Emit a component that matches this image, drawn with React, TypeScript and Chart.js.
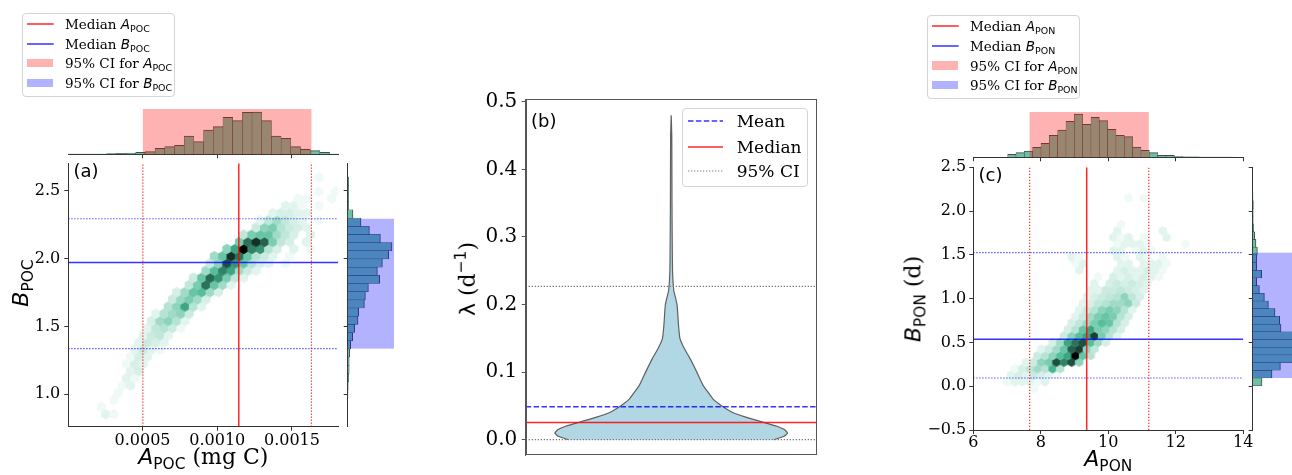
import React, { useEffect, useRef } from 'react';
import { Chart, registerables } from 'chart.js';

Chart.register(...registerables);

const SERIF = '"DejaVu Serif", "Liberation Serif", serif';
const SANS = '"DejaVu Sans", "Liberation Sans", sans-serif';
const SPINE = '#333333';
const HIST_GREEN = 'rgb(108, 193, 162)';
const HIST_EDGE = 'rgba(35, 45, 40, 0.85)';
const RED = 'rgba(255, 0, 0, 0.85)';
const BLUE = 'rgba(0, 0, 255, 0.8)';
const GRAY = '#777777';
const RED_SPAN = 'rgba(255, 0, 0, 0.3)';
const BLUE_SPAN = 'rgba(0, 0, 255, 0.3)';
const DOT = [1.2, 1.8];
const DASH = [5.5, 2.4];

// ---------------- Panel (a) ----------------
const aXRange = [0.000003, 0.00181];
const aYRange = [0.761, 2.704];
const aXTicks = [0.0005, 0.001, 0.0015];
const aXTickLabels = ['0.0005', '0.0010', '0.0015'];
const aYTicks = [1.0, 1.5, 2.0, 2.5];
const aYTickLabels = ['1.0', '1.5', '2.0', '2.5'];
const aMedianA = 0.001144;
const aCIA = [0.000502, 0.00163];
const aMedianB = 1.973;
const aCIB = [1.337, 2.295];
// hexbin grid (column/row index, count)
const aHexX0 = 0;
const aHexY0 = 0.8;
const aHexDX = 0.000056;
const aHexDY = 0.053;
const aHexMax = 40;
const aHexCells = [
  [4,1,2],[5,1,1],[4,2,1],[5,3,1],[6,4,1],[6,5,1],[7,5,2],[7,6,2],[8,6,1],[7,7,2],[8,7,3],
  [7,8,1],[8,8,3],[9,8,2],[7,9,1],[8,9,3],[9,9,2],
  [8,10,2],[9,10,4],[10,10,2],[11,10,1],[8,11,2],[9,11,4],[10,11,3],[11,11,2],
  [9,12,2],[10,12,4],[11,12,5],[12,12,2],[9,13,2],[10,13,5],[11,13,6],[12,13,4],[13,13,1],
  [10,14,3],[11,14,8],[12,14,10],[13,14,6],[14,14,2],[10,15,2],[11,15,6],[12,15,8],[13,15,10],[14,15,4],
  [12,16,6],[13,16,10],[14,16,20],[15,16,6],[16,16,2],[12,17,4],[13,17,9],[14,17,12],[15,17,8],[16,17,3],
  [13,18,3],[14,18,8],[15,18,14],[16,18,16],[17,18,8],[18,18,3],
  [14,19,5],[15,19,12],[16,19,26],[17,19,14],[18,19,8],[19,19,2],
  [15,20,4],[16,20,14],[17,20,27],[18,20,22],[19,20,12],[20,20,5],[21,20,2],
  [16,21,8],[17,21,16],[18,21,24],[19,21,20],[20,21,8],[21,21,4],[22,21,2],
  [17,22,4],[18,22,10],[19,22,30],[20,22,22],[21,22,14],[22,22,6],[23,22,3],[24,22,2],[26,22,1],
  [17,23,8],[18,23,14],[19,23,34],[20,23,26],[21,23,14],[22,23,6],[23,23,4],[24,23,2],[26,23,1],
  [19,24,10],[20,24,20],[21,24,40],[22,24,24],[23,24,22],[24,24,6],[25,24,3],[27,24,2],[29,24,1],
  [20,25,12],[21,25,26],[22,25,34],[23,25,28],[24,25,12],[25,25,5],[26,25,3],[28,25,2],
  [21,26,5],[22,26,12],[23,26,14],[24,26,14],[25,26,8],[26,26,5],[27,26,3],[29,26,2],
  [22,27,4],[23,27,10],[24,27,12],[25,27,6],[26,27,4],[27,27,3],[28,27,2],
  [23,28,2],[24,28,5],[25,28,8],[26,28,5],[27,28,3],[28,28,2],[30,28,1],
  [24,29,2],[25,29,3],[26,29,3],[27,29,2],[28,29,2],
  [26,30,2],[27,30,2],[28,30,1],[30,30,1],[27,31,1],[28,31,1],[31,31,1],[30,32,1],[32,32,1],[30,34,1],
];
const aTopBinStart = 0.0000003;
const aTopBinWidth = 0.00006487;
const aTopCounts = [0.3,0.3,0.2,0.3,0.7,1,1.3,2,2.7,6,7.7,9,18.3,12.7,24.3,27.7,37,33.7,42,42.3,33.7,18.3,16,7.7,5,3.7,2,0.3];
const aTopMax = 45.3;
const aRightBinStart = 0.9734;
const aRightBinWidth = 0.0603;
const aRightCounts = [0.3,0.5,1,1.5,1.5,2,3,5,7,10.3,11,16.7,17.7,20.7,32,29.7,34.7,41,44.3,32.7,21.7,13.3,5.3,1,1,1,1];
const aRightMax = 46.3;

// ---------------- Panel (b) ----------------
const bYRange = [-0.0235, 0.5035];
const bYTicks = [0, 0.1, 0.2, 0.3, 0.4, 0.5];
const bYTickLabels = ['0.0', '0.1', '0.2', '0.3', '0.4', '0.5'];
const bMean = 0.0489;
const bMedian = 0.0254;
const bCI = [0.0, 0.227];
const violinY = [0, 0.005, 0.01, 0.015, 0.02, 0.025, 0.03, 0.04, 0.05, 0.06, 0.07, 0.08, 0.1, 0.12, 0.135, 0.15, 0.17, 0.19, 0.2, 0.21, 0.22, 0.25, 0.3, 0.35, 0.4, 0.45, 0.48];
const violinHalf = [0.353, 0.388, 0.4, 0.389, 0.363, 0.323, 0.282, 0.213, 0.174, 0.144, 0.127, 0.11, 0.088, 0.065, 0.045, 0.03, 0.025, 0.022, 0.02, 0.015, 0.009, 0.0045, 0.0034, 0.0027, 0.0024, 0.002, 0];

// ---------------- Panel (c) ----------------
const cXRange = [6, 14];
const cYRange = [-0.5, 2.5];
const cXTicks = [6, 8, 10, 12, 14];
const cXTickLabels = ['6', '8', '10', '12', '14'];
const cYTicks = [-0.5, 0, 0.5, 1.0, 1.5, 2.0, 2.5];
const cYTickLabels = ['\u22120.5', '0.0', '0.5', '1.0', '1.5', '2.0', '2.5'];
const cMedianA = 9.36;
const cCIA = [7.67, 11.2];
const cMedianB = 0.536;
const cCIB = [0.094, 1.525];
const cHexX0 = 7.0;
const cHexY0 = -0.1;
const cHexDX = 0.225;
const cHexDY = 0.075;
const cHexMax = 40;
const cHexCells = [
  [3,1,1],[0,2,1],[1,2,2],[2,2,2],[3,2,2],[4,2,1],[5,2,2],
  [0,3,2],[1,3,3],[2,3,2],[3,3,4],[4,3,3],[5,3,2],[6,3,1],
  [1,4,1],[2,4,3],[3,4,5],[4,4,8],[5,4,6],[6,4,18],[7,4,6],
  [2,5,2],[3,5,4],[4,5,10],[5,5,12],[6,5,30],[7,5,24],[8,5,30],[9,5,10],
  [4,6,4],[5,6,6],[6,6,10],[7,6,16],[8,6,20],[9,6,40],[10,6,14],[11,6,6],
  [4,7,2],[5,7,4],[6,7,8],[7,7,14],[8,7,28],[9,7,32],[10,7,10],[11,7,5],
  [6,8,3],[7,8,8],[8,8,20],[9,8,26],[10,8,30],[11,8,16],[12,8,8],[13,8,3],
  [7,9,4],[8,9,10],[9,9,16],[10,9,20],[11,9,32],[12,9,12],[13,9,6],[14,9,2],
  [8,10,3],[9,10,6],[10,10,14],[11,10,20],[12,10,12],[13,10,10],[14,10,6],[15,10,3],
  [8,11,3],[9,11,5],[10,11,8],[11,11,12],[12,11,16],[13,11,14],[14,11,6],[15,11,3],
  [9,12,2],[10,12,4],[11,12,8],[12,12,12],[13,12,14],[14,12,12],[15,12,6],[16,12,3],
  [9,13,2],[10,13,4],[11,13,6],[12,13,10],[13,13,12],[14,13,10],[15,13,6],[16,13,2],
  [10,14,2],[11,14,3],[12,14,5],[13,14,6],[14,14,8],[15,14,8],[16,14,10],[17,14,4],
  [10,15,2],[11,15,3],[12,15,4],[13,15,5],[14,15,6],[15,15,10],[16,15,5],[17,15,3],
  [11,16,2],[12,16,2],[13,16,4],[14,16,4],[15,16,5],[16,16,4],[17,16,3],[18,16,2],
  [11,17,2],[13,17,3],[14,17,4],[15,17,3],[16,17,4],[17,17,3],[18,17,2],
  [12,18,1],[14,18,3],[15,18,2],[16,18,3],[17,18,2],[18,18,3],[19,18,2],[20,18,1],
  [9,19,2],[14,19,2],[15,19,3],[16,19,2],[17,19,2],[18,19,3],[19,19,2],[20,19,1],
  [9,20,1],[10,20,2],[15,20,2],[16,20,2],[18,20,2],[19,20,2],[20,20,2],[21,20,1],
  [8,21,2],[9,21,1],[14,21,2],[15,21,1],[17,21,2],[18,21,1],[20,21,1],
  [14,22,2],[15,22,2],[17,22,1],[18,22,2],[19,22,1],
  [14,23,1],[15,23,2],[16,23,2],[17,23,2],[18,23,1],[23,23,1],
  [14,24,2],[15,24,1],[16,24,2],[18,24,1],[21,24,2],
  [14,25,2],[20,25,2],[15,26,1],[16,30,1],[18,30,1],
];
const cTopBinStart = 7.0185;
const cTopBinWidth = 0.2469;
const cTopCounts = [3,4.7,6.3,10,14,22,27.3,36,43.3,33,40,36.7,28,22,20.7,10.3,7,4.7,2,2,0.7,0.5,0.5,0.3,0.3,0.3,0.3];
const cTopMax = 45.3;
const cRightBinStart = 0.0063;
const cRightBinWidth = 0.0879;
const cRightCounts = [9.3,19.3,27.7,42,45,44,42,28.3,27,22.3,15.7,11.7,6.7,4,9,4,4,4.7,3.3,2,1,0.5,0.5,0.7,0.3];
const cRightMax = 48.3;

// ---------------- helpers ----------------
const hexCache = new Map();
function hexImage(w, h, color) {
  const key = w.toFixed(2) + '|' + h.toFixed(2) + '|' + color;
  let c = hexCache.get(key);
  if (c) return c;
  const W = Math.ceil(w) + 2;
  const H = Math.ceil(h) + 2;
  c = document.createElement('canvas');
  c.width = W;
  c.height = H;
  const g = c.getContext('2d');
  const cx = W / 2, cy = H / 2, hw = w / 2 + 0.35, hh = h / 2 + 0.35;
  g.beginPath();
  g.moveTo(cx, cy - hh);
  g.lineTo(cx + hw, cy - hh / 2);
  g.lineTo(cx + hw, cy + hh / 2);
  g.lineTo(cx, cy + hh);
  g.lineTo(cx - hw, cy + hh / 2);
  g.lineTo(cx - hw, cy - hh / 2);
  g.closePath();
  g.fillStyle = color;
  g.fill();
  hexCache.set(key, c);
  return c;
}

// light-to-dark colormap through the hue of the joint colour (white -> green -> black)
function hexColor(c, cmax) {
  const t = Math.pow(c / cmax, 0.85);
  const l = 100 * (1 - t);
  return 'hsl(160, 45%, ' + l.toFixed(1) + '%)';
}

function hexDataset(cells, x0, y0, dx, dy, cmax) {
  return {
    data: cells.map(([i, j, c]) => ({ x: x0 + (i + (j % 2) * 0.5) * dx, y: y0 + j * dy, c })),
    order: 10,
    showLine: false,
    pointRadius: 4,
    pointBorderWidth: 0,
    pointStyle: (ctx) => {
      const ch = ctx.chart;
      const sx = ch.scales && ch.scales.x;
      const sy = ch.scales && ch.scales.y;
      const raw = ctx.raw;
      if (!sx || !sy || !raw) return 'circle';
      const w = Math.abs(sx.getPixelForValue(x0 + dx) - sx.getPixelForValue(x0));
      const h = (Math.abs(sy.getPixelForValue(y0 + dy) - sy.getPixelForValue(y0)) * 4) / 3;
      if (!isFinite(w) || !isFinite(h) || w < 1 || h < 1) return 'circle';
      return hexImage(w, h, hexColor(raw.c, cmax));
    },
  };
}

function seg(x1, y1, x2, y2, color, width, dash) {
  return {
    data: [{ x: x1, y: y1 }, { x: x2, y: y2 }],
    showLine: true,
    borderColor: color,
    backgroundColor: color,
    borderWidth: width,
    borderDash: dash,
    pointRadius: 0,
    fill: false,
    tension: 0,
    order: 0,
  };
}

function axisOpts({ min, max, ticks, labels, size, fontSize, pad, position, spine = SPINE }) {
  return {
    type: 'linear',
    position,
    min,
    max,
    offset: false,
    afterFit: (s) => {
      if (s.isHorizontal()) s.height = size;
      else s.width = size;
    },
    afterBuildTicks: (s) => {
      s.ticks = ticks.map((v) => ({ value: v }));
    },
    ticks: {
      autoSkip: false,
      maxRotation: 0,
      minRotation: 0,
      padding: pad,
      color: '#000',
      font: { family: SERIF, size: fontSize, lineHeight: 1 },
      callback: (_v, i) => (labels ? labels[i] : ''),
    },
    grid: { display: true, offset: false, drawOnChartArea: false, drawTicks: true, tickLength: 4, tickWidth: 1, tickColor: spine },
    border: { display: true, color: spine, width: 1 },
  };
}

function baseOptions(padding, scales, extra = {}) {
  return {
    responsive: false,
    maintainAspectRatio: false,
    animation: false,
    events: [],
    layout: { padding, autoPadding: false },
    plugins: { legend: { display: false }, tooltip: { enabled: false }, title: { display: false } },
    scales,
    ...extra,
  };
}

function spanPlugin(id, axis, lo, hi, color) {
  return {
    id,
    afterDatasetsDraw(chart) {
      const { ctx, chartArea: a } = chart;
      const s = chart.scales[axis];
      ctx.save();
      ctx.fillStyle = color;
      if (axis === 'x') {
        const p1 = s.getPixelForValue(lo);
        const p2 = s.getPixelForValue(hi);
        ctx.fillRect(p1, a.top, p2 - p1, a.bottom - a.top);
      } else {
        const p1 = s.getPixelForValue(hi);
        const p2 = s.getPixelForValue(lo);
        ctx.fillRect(a.left, p1, a.right - a.left, p2 - p1);
      }
      ctx.restore();
    },
  };
}

function framePlugin(color) {
  return {
    id: 'frame',
    afterDraw(chart) {
      const { ctx, chartArea: a } = chart;
      ctx.save();
      ctx.strokeStyle = color;
      ctx.lineWidth = 1;
      ctx.strokeRect(Math.round(a.left) + 0.5, Math.round(a.top) + 0.5, Math.round(a.right - a.left) - 1, Math.round(a.bottom - a.top) - 1);
      ctx.restore();
    },
  };
}

function mainConfig(p) {
  return {
    type: 'scatter',
    data: {
      datasets: [
        hexDataset(p.cells, p.hx0, p.hy0, p.hdx, p.hdy, p.hmax),
        seg(p.medA, p.yr[0], p.medA, p.yr[1], RED, 1.5, []),
        seg(p.ciA[0], p.yr[0], p.ciA[0], p.yr[1], RED, 1.2, DOT),
        seg(p.ciA[1], p.yr[0], p.ciA[1], p.yr[1], RED, 1.2, DOT),
        seg(p.xr[0], p.medB, p.xr[1], p.medB, BLUE, 1.5, []),
        seg(p.xr[0], p.ciB[0], p.xr[1], p.ciB[0], BLUE, 1.2, DOT),
        seg(p.xr[0], p.ciB[1], p.xr[1], p.ciB[1], BLUE, 1.2, DOT),
      ],
    },
    options: baseOptions(p.padding, {
      x: axisOpts({ min: p.xr[0], max: p.xr[1], ticks: p.xt, labels: p.xl, size: p.xSize, fontSize: 16, pad: p.xPad, position: 'bottom' }),
      y: axisOpts({ min: p.yr[0], max: p.yr[1], ticks: p.yt, labels: p.yl, size: p.ySize, fontSize: 16, pad: p.yPad, position: 'left' }),
    }),
  };
}

function topHistConfig(p) {
  return {
    type: 'bar',
    data: {
      datasets: [
        {
          data: p.counts.map((v, k) => ({ x: p.start + (k + 0.5) * p.width, y: v })),
          backgroundColor: HIST_GREEN,
          borderColor: HIST_EDGE,
          borderWidth: { top: 1, left: 0.5, right: 0.5, bottom: 0 },
          borderSkipped: 'start',
          barPercentage: 1,
          categoryPercentage: 1,
          grouped: false,
        },
      ],
    },
    options: baseOptions(p.padding, {
      x: axisOpts({ min: p.xr[0], max: p.xr[1], ticks: p.xt, labels: null, size: p.axisSize, fontSize: 8, pad: 0, position: 'bottom' }),
      y: { type: 'linear', min: 0, max: p.max, display: false },
    }),
    plugins: [spanPlugin('spanTop', 'x', p.ci[0], p.ci[1], RED_SPAN)],
  };
}

function rightHistConfig(p) {
  return {
    type: 'bar',
    data: {
      datasets: [
        {
          data: p.counts.map((v, k) => ({ x: v, y: p.start + (k + 0.5) * p.width })),
          backgroundColor: HIST_GREEN,
          borderColor: HIST_EDGE,
          borderWidth: { right: 1, top: 0.5, bottom: 0.5, left: 0 },
          borderSkipped: 'start',
          barPercentage: 1,
          categoryPercentage: 1,
          grouped: false,
        },
      ],
    },
    options: baseOptions(
      p.padding,
      {
        y: axisOpts({ min: p.yr[0], max: p.yr[1], ticks: p.yt, labels: null, size: p.axisSize, fontSize: 8, pad: 0, position: 'left' }),
        x: { type: 'linear', min: 0, max: p.max, display: false },
      },
      { indexAxis: 'y' }
    ),
    plugins: [spanPlugin('spanRight', 'y', p.ci[0], p.ci[1], BLUE_SPAN)],
  };
}

function violinConfig() {
  const right = violinY.map((y, k) => ({ x: violinHalf[k], y }));
  const left = violinY.map((y, k) => ({ x: -violinHalf[k], y })).reverse();
  return {
    type: 'scatter',
    data: {
      datasets: [
        {
          data: right.concat(left),
          showLine: true,
          fill: 'shape',
          backgroundColor: '#b0d7e3',
          borderColor: '#606060',
          borderWidth: 1.2,
          pointRadius: 0,
          tension: 0.1,
          order: 10,
        },
        seg(-0.5, bCI[0], 0.5, bCI[0], GRAY, 1.2, [1.3, 1.7]),
        seg(-0.5, bCI[1], 0.5, bCI[1], GRAY, 1.2, [1.3, 1.7]),
        seg(-0.5, bMedian, 0.5, bMedian, RED, 1.5, []),
        seg(-0.5, bMean, 0.5, bMean, BLUE, 1.5, DASH),
      ],
    },
    options: baseOptions(
      { left: 0, top: 14.3, right: 13.3, bottom: 11.7 },
      {
        x: { type: 'linear', min: -0.5, max: 0.5, display: false },
        y: axisOpts({ min: bYRange[0], max: bYRange[1], ticks: bYTicks, labels: bYTickLabels, size: 85.7, fontSize: 20, pad: 4.4, position: 'left', spine: '#555555' }),
      }
    ),
    plugins: [framePlugin('#555555')],
  };
}

function ChartCanvas({ box, make }) {
  const ref = useRef(null);
  useEffect(() => {
    const chart = new Chart(ref.current, make());
    return () => chart.destroy();
  }, []);
  return (
    <canvas
      ref={ref}
      width={box.width}
      height={box.height}
      style={{ position: 'absolute', left: box.left, top: box.top, width: box.width, height: box.height }}
    />
  );
}

// ---------------- text helpers ----------------
const Sub = ({ children }) => (
  <span style={{ fontFamily: SANS, fontStyle: 'normal', fontSize: '70%', position: 'relative', top: '0.33em' }}>{children}</span>
);
const Sup = ({ children }) => (
  <span style={{ fontFamily: SANS, fontSize: '70%', position: 'relative', top: '-0.6em' }}>{children}</span>
);
const It = ({ children }) => <span style={{ fontFamily: SANS, fontStyle: 'italic' }}>{children}</span>;

function TextAt({ x, base, fs, family = SERIF, center = false, children }) {
  return (
    <div
      style={{
        position: 'absolute',
        left: x,
        top: base - 0.846 * fs,
        fontSize: fs,
        lineHeight: fs + 'px',
        fontFamily: family,
        whiteSpace: 'nowrap',
        color: '#000',
        transform: center ? 'translateX(-50%)' : undefined,
      }}
    >
      {children}
    </div>
  );
}

function RotText({ base, cy, fs, family = SERIF, children }) {
  const x = base - 0.846 * fs;
  return (
    <div
      style={{
        position: 'absolute',
        left: 0,
        top: 0,
        transformOrigin: '0 0',
        transform: 'translate(' + x + 'px, ' + cy + 'px) rotate(-90deg) translateX(-50%)',
        fontSize: fs,
        lineHeight: fs + 'px',
        fontFamily: family,
        whiteSpace: 'nowrap',
        color: '#000',
      }}
    >
      {children}
    </div>
  );
}

function Handle({ kind, color, x, cy, w, dash, lw = 1.5 }) {
  if (kind === 'patch') {
    return <div style={{ position: 'absolute', left: x, top: cy - 4.2, width: w, height: 8.4, background: color }} />;
  }
  return (
    <svg style={{ position: 'absolute', left: x, top: cy - 5, overflow: 'visible' }} width={w} height={10}>
      <line x1={0} y1={5} x2={w} y2={5} stroke={color} strokeWidth={lw} strokeDasharray={dash ? dash.join(' ') : undefined} />
    </svg>
  );
}

function LegendFrame({ left, top, width, height }) {
  return (
    <div
      style={{
        position: 'absolute',
        left,
        top,
        width,
        height,
        boxSizing: 'border-box',
        border: '1px solid #d4d4d4',
        borderRadius: 4,
        background: 'rgba(255,255,255,0.9)',
      }}
    />
  );
}

function JointLegend({ left, top, sub }) {
  const rows = [11.3, 30.8, 50.6, 70.1];
  const hx = left + 5;
  const tx = left + 43.3;
  const fs = 13.5;
  return (
    <>
      <LegendFrame left={left} top={top} width={153.3} height={84} />
      <Handle kind="line" color={RED} x={hx} cy={top + rows[0]} w={26.7} />
      <Handle kind="line" color={BLUE} x={hx} cy={top + rows[1]} w={26.7} />
      <Handle kind="patch" color={RED_SPAN} x={hx} cy={top + rows[2]} w={26.7} />
      <Handle kind="patch" color={BLUE_SPAN} x={hx} cy={top + rows[3]} w={26.7} />
      <TextAt x={tx} base={top + rows[0] + 5.5} fs={fs}>
        Median <It>A</It><Sub>{sub}</Sub>
      </TextAt>
      <TextAt x={tx} base={top + rows[1] + 5.5} fs={fs}>
        Median <It>B</It><Sub>{sub}</Sub>
      </TextAt>
      <TextAt x={tx} base={top + rows[2] + 5.5} fs={fs}>
        95% CI for <It>A</It><Sub>{sub}</Sub>
      </TextAt>
      <TextAt x={tx} base={top + rows[3] + 5.5} fs={fs}>
        95% CI for <It>B</It><Sub>{sub}</Sub>
      </TextAt>
    </>
  );
}

function ViolinLegend() {
  const left = 681.7;
  const top = 107.7;
  const rows = [121, 146.7, 171];
  return (
    <>
      <LegendFrame left={left} top={top} width={126.6} height={79.6} />
      <Handle kind="line" color={BLUE} x={688.3} cy={rows[0]} w={35} dash={DASH} />
      <Handle kind="line" color={RED} x={688.3} cy={rows[1]} w={35} />
      <Handle kind="line" color={GRAY} x={688.3} cy={rows[2]} w={35} dash={[1.3, 1.7]} lw={1.2} />
      <TextAt x={736.7} base={rows[0] + 6.5} fs={17}>Mean</TextAt>
      <TextAt x={736.7} base={rows[1] + 6.5} fs={17}>Median</TextAt>
      <TextAt x={736.7} base={rows[2] + 6.5} fs={17}>95% CI</TextAt>
    </>
  );
}

export default function App() {
  return (
    <div style={{ position: 'absolute', left: 0, top: 0, width: 1292, height: 475, overflow: 'hidden', background: '#ffffff' }}>
      {/* Panel (a) */}
      <ChartCanvas
        box={{ left: 0, top: 100, width: 350, height: 62 }}
        make={() =>
          topHistConfig({
            start: aTopBinStart, width: aTopBinWidth, counts: aTopCounts, xr: aXRange, xt: aXTicks, max: aTopMax,
            ci: aCIA, padding: { left: 68.3, right: 11.7, top: 9, bottom: 0 }, axisSize: 7.7,
          })
        }
      />
      <ChartCanvas
        box={{ left: 340, top: 150, width: 60, height: 290 }}
        make={() =>
          rightHistConfig({
            start: aRightBinStart, width: aRightBinWidth, counts: aRightCounts, yr: aYRange, yt: aYTicks, max: aRightMax,
            ci: aCIB, padding: { left: 0, right: 6, top: 13.3, bottom: 13.3 }, axisSize: 7.7,
          })
        }
      />
      <ChartCanvas
        box={{ left: 0, top: 150, width: 350, height: 325 }}
        make={() =>
          mainConfig({
            cells: aHexCells, hx0: aHexX0, hy0: aHexY0, hdx: aHexDX, hdy: aHexDY, hmax: aHexMax,
            medA: aMedianA, ciA: aCIA, medB: aMedianB, ciB: aCIB, xr: aXRange, yr: aYRange,
            xt: aXTicks, xl: aXTickLabels, yt: aYTicks, yl: aYTickLabels,
            padding: { left: 0, top: 13.3, right: 11.7, bottom: 0 }, xSize: 48.3, ySize: 68.3, xPad: 2, yPad: 4,
          })
        }
      />

      {/* Panel (b) */}
      <ChartCanvas box={{ left: 440, top: 85, width: 390, height: 385 }} make={violinConfig} />

      {/* Panel (c) */}
      <ChartCanvas
        box={{ left: 900, top: 100, width: 360, height: 65 }}
        make={() =>
          topHistConfig({
            start: cTopBinStart, width: cTopBinWidth, counts: cTopCounts, xr: cXRange, xt: cXTicks, max: cTopMax,
            ci: cCIA, padding: { left: 73.3, right: 16.7, top: 12, bottom: 0 }, axisSize: 7.7,
          })
        }
      />
      <ChartCanvas
        box={{ left: 1245, top: 150, width: 60, height: 290 }}
        make={() =>
          rightHistConfig({
            start: cRightBinStart, width: cRightBinWidth, counts: cRightCounts, yr: cYRange, yt: cYTicks, max: cRightMax,
            ci: cCIB, padding: { left: 0, right: 4, top: 17.3, bottom: 10 }, axisSize: 7.7,
          })
        }
      />
      <ChartCanvas
        box={{ left: 900, top: 150, width: 360, height: 325 }}
        make={() =>
          mainConfig({
            cells: cHexCells, hx0: cHexX0, hy0: cHexY0, hdx: cHexDX, hdy: cHexDY, hmax: cHexMax,
            medA: cMedianA, ciA: cCIA, medB: cMedianB, ciB: cCIB, xr: cXRange, yr: cYRange,
            xt: cXTicks, xl: cXTickLabels, yt: cYTicks, yl: cYTickLabels,
            padding: { left: 0, top: 17.3, right: 16.7, bottom: 0 }, xSize: 45, ySize: 73.3, xPad: 1, yPad: 3,
          })
        }
      />

      {/* Titles and labels */}
      <TextAt x={73.5} base={177.7} fs={18} family={SANS}>(a)</TextAt>
      <TextAt x={531} base={127} fs={18} family={SANS}>(b)</TextAt>
      <TextAt x={978.5} base={181} fs={18} family={SANS}>(c)</TextAt>

      <TextAt x={203.3} base={465} fs={22} center>
        <It>A</It><Sub>POC</Sub> (mg C)
      </TextAt>
      <RotText base={29} cy={283} fs={22}>
        <It>B</It><Sub>POC</Sub>
      </RotText>

      <RotText base={475.4} cy={279} fs={22}>
        <span style={{ fontFamily: SANS }}>λ</span> (d<Sup>−1</Sup>)
      </RotText>

      <TextAt x={1108.3} base={466.5} fs={22} center>
        <It>A</It><Sub>PON</Sub>
      </TextAt>
      <RotText base={921} cy={299} fs={22}>
        <It>B</It><Sub>PON</Sub> (d)
      </RotText>

      <JointLegend left={21.7} top={12.7} sub="POC" />
      <JointLegend left={926.7} top={15} sub="PON" />
      <ViolinLegend />
    </div>
  );
}
